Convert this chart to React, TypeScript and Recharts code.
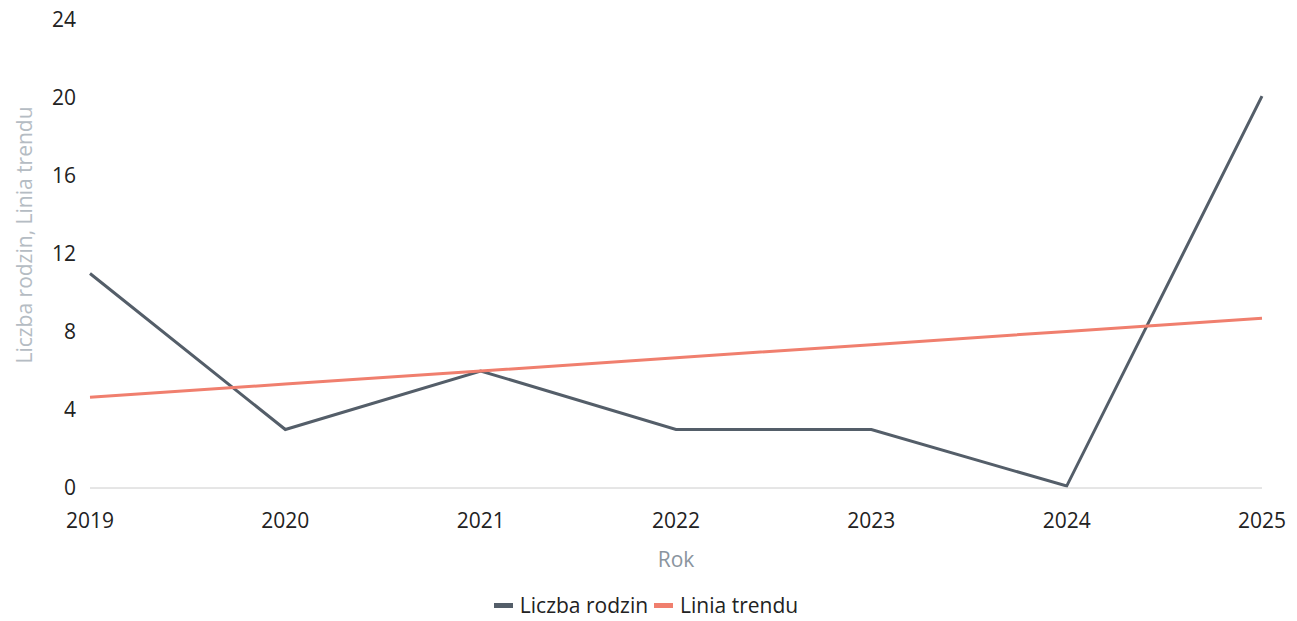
import { LineChart, Line, XAxis, YAxis, Legend } from "recharts";

const years = ["2019", "2020", "2021", "2022", "2023", "2024", "2025"];
const familyCounts = [11, 3, 6, 3, 3, 0.1, 20.1];
const trendValues = [4.65, 5.33, 6.0, 6.68, 7.35, 8.03, 8.7];
const yTicks = [0, 4, 8, 12, 16, 20, 24];

const seriesNames = ["Liczba rodzin", "Linia trendu"];
const colors = ["#545e69", "#f07f6e"];

const data = years.map((year, i) => ({
  year,
  rodziny: familyCounts[i],
  trend: trendValues[i],
}));

const font = "'Open Sans', sans-serif";
const fontSize = 21;

function LegendContent() {
  return (
    <div
      style={{
        display: "flex",
        justifyContent: "center",
        alignItems: "center",
        fontFamily: font,
        fontSize: 21,
        color: "#222",
        paddingTop: 10,
        paddingLeft: 30,
      }}
    >
      {seriesNames.map((name, i) => (
        <span key={name} style={{ display: "flex", alignItems: "center", marginRight: i === 0 ? 6 : 0 }}>
          <span
            style={{
              display: "inline-block",
              width: 19,
              height: 5,
              background: colors[i],
              marginRight: 7,
            }}
          />
          {name}
        </span>
      ))}
    </div>
  );
}

function YLabel(props: any) {
  const vb = props.viewBox;
  const x = vb.x + 24;
  const y = vb.y + vb.height / 2 - 19;
  return (
    <text
      x={x}
      y={y}
      transform={`rotate(-90, ${x}, ${y})`}
      textAnchor="middle"
      dominantBaseline="central"
      fill="#b5bcc3"
      fontSize={fontSize}
      fontFamily={font}
    >
      Liczba rodzin, Linia trendu
    </text>
  );
}

export default function App() {
  return (
    <div style={{ position: "absolute", left: 0, top: 0, background: "#fff" }}>
      <LineChart
        width={1297}
        height={621}
        data={data}
        margin={{ top: 20, right: 35, left: 0, bottom: 0 }}
      >
        <XAxis
          dataKey="year"
          stroke="#cccccc"
          tickLine={false}
          tickSize={0}
          tickMargin={25}
          tick={{ fill: "#222", fontSize, fontFamily: font }}
          height={93}
          label={{
            value: "Rok",
            position: "insideBottom",
            offset: 14,
            fill: "#8a949e",
            fontSize,
            fontFamily: font,
          }}
        />
        <YAxis
          domain={[0, 24]}
          ticks={yTicks}
          axisLine={false}
          tickLine={false}
          tickSize={0}
          tickMargin={14}
          width={90}
          tick={{ fill: "#222", fontSize, fontFamily: font }}
          label={<YLabel />}
        />
        <Legend verticalAlign="bottom" height={40} content={() => <LegendContent />} />
        <Line
          type="linear"
          dataKey="rodziny"
          name={seriesNames[0]}
          stroke={colors[0]}
          strokeWidth={3}
          dot={false}
          isAnimationActive={false}
        />
        <Line
          type="linear"
          dataKey="trend"
          name={seriesNames[1]}
          stroke={colors[1]}
          strokeWidth={3}
          dot={false}
          isAnimationActive={false}
        />
      </LineChart>
    </div>
  );
}
